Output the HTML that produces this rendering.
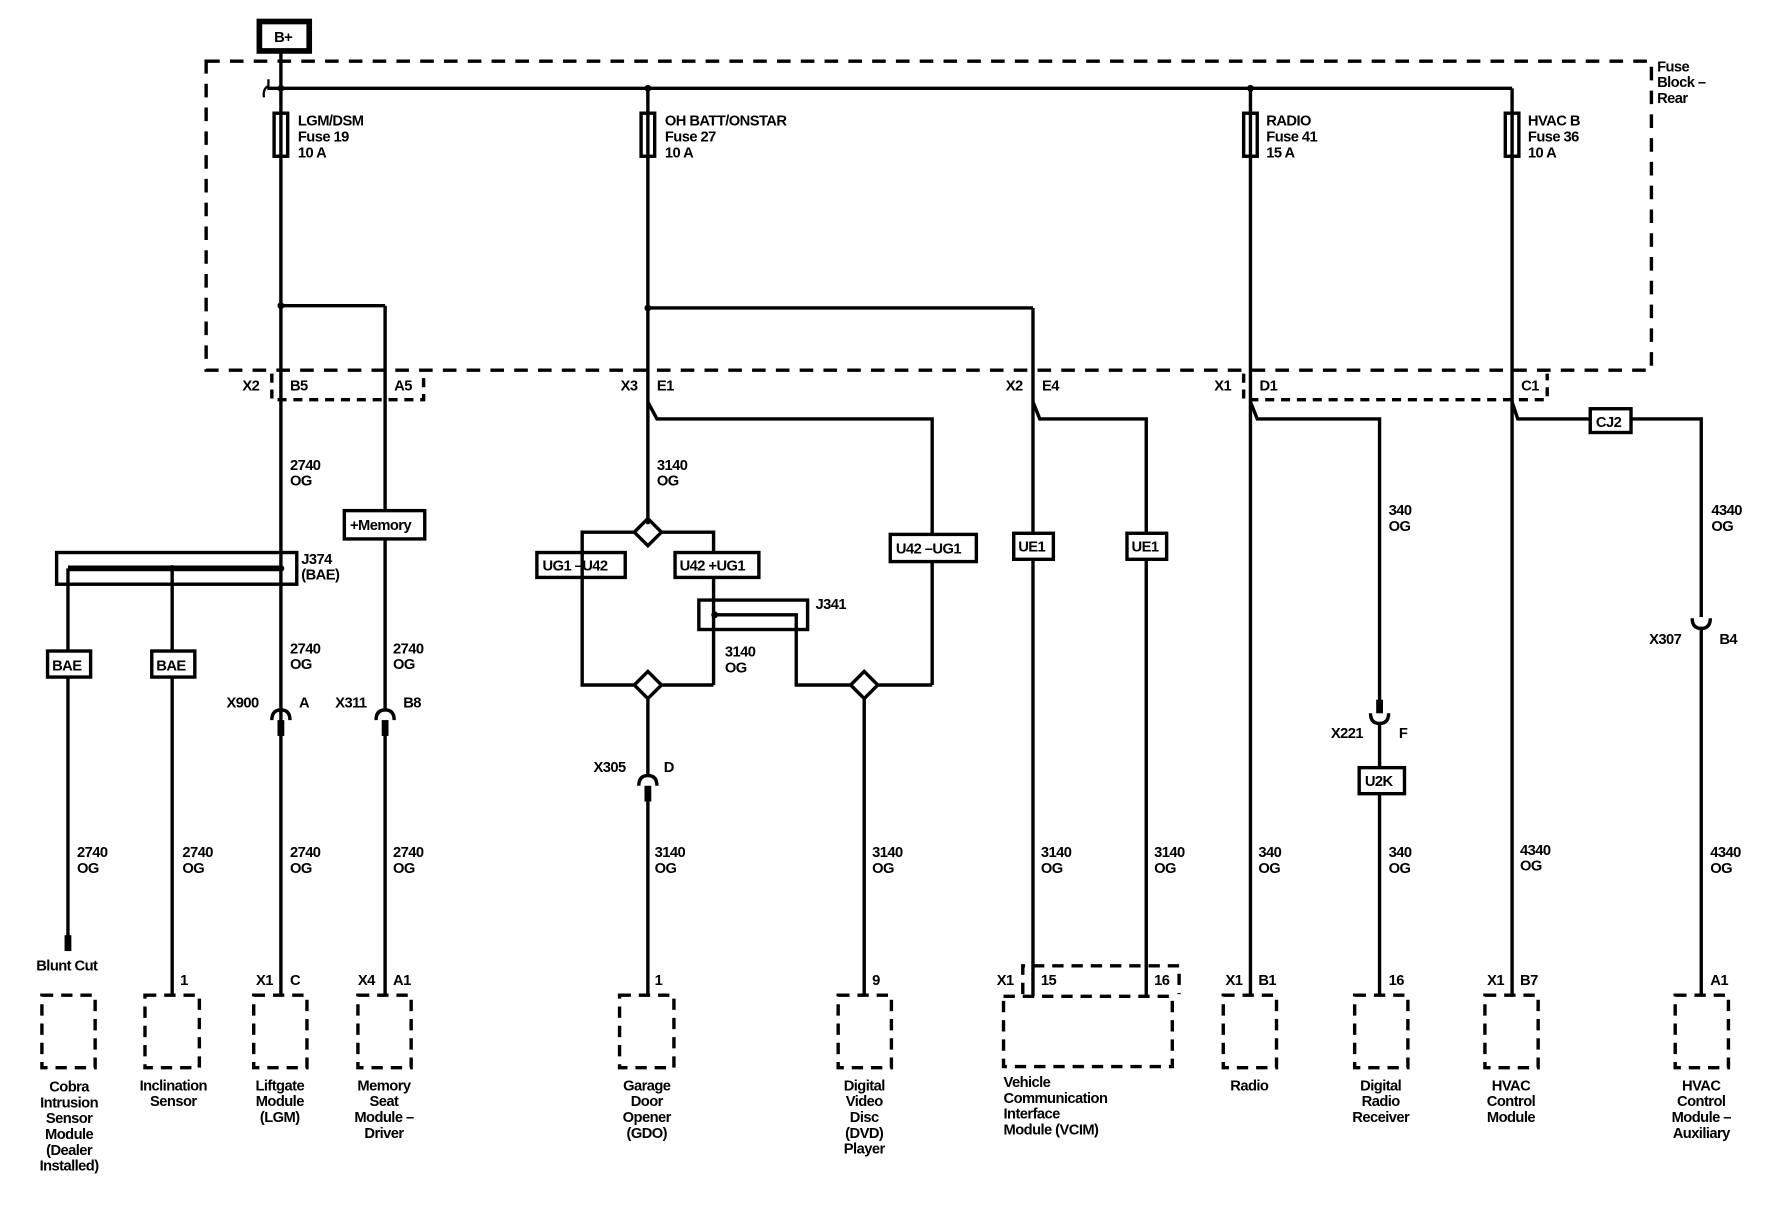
<!DOCTYPE html>
<html><head><meta charset="utf-8"><style>
html,body{margin:0;padding:0;background:#fff;}
svg{display:block}
text{font-family:"Liberation Sans",sans-serif;font-size:13px;font-weight:bold;fill:#000;letter-spacing:-0.5px}
</style></head><body>
<svg width="1776" height="1216" viewBox="0 0 1568 1074" preserveAspectRatio="none" xmlns="http://www.w3.org/2000/svg">
<g fill="none" stroke="#000" stroke-width="3">
<rect x="229" y="19" width="44" height="26" stroke-width="5"/>
<line x1="248" y1="46" x2="248" y2="78"/>
<rect x="182" y="54" width="1276" height="273" stroke-dasharray="12,9"/>
<line x1="236" y1="78" x2="1335" y2="78"/>
<path d="M237 70 V76 Q232 78 233 86" stroke-width="2"/>
<rect x="242" y="100" width="12" height="38"/>
<rect x="566" y="100" width="12" height="38"/>
<rect x="1098" y="100" width="12" height="38"/>
<rect x="1329" y="100" width="12" height="38"/>
<line x1="248" y1="78" x2="248" y2="880"/>
<line x1="248" y1="270" x2="340" y2="270"/>
<line x1="340" y1="270" x2="340" y2="451"/>
<line x1="340" y1="476" x2="340" y2="628"/>
<line x1="340" y1="640" x2="340" y2="880"/>
<line x1="572" y1="78" x2="572" y2="463"/>
<line x1="572" y1="272" x2="912" y2="272"/>
<line x1="912" y1="272" x2="912" y2="880"/>
<line x1="1104" y1="78" x2="1104" y2="880"/>
<line x1="1335" y1="78" x2="1335" y2="880"/>
<path d="M240 330 V353 H374 V330" stroke-dasharray="8,6"/>
<path d="M1098 330 V353 H1366 V330" stroke-dasharray="8,6"/>
<path d="M572 355 L580 370 H823 V605"/>
<path d="M912 355 L918 370 H1012 V880"/>
<path d="M1104 355 L1110 370 H1218 V620"/>
<path d="M1335 355 L1340 370 H1404"/>
<path d="M1440 370 H1502 V545"/>
<path d="M1502 555 V880"/>
<rect x="1404" y="361" width="36" height="21"/>
<rect x="304" y="451" width="71" height="25"/>
<rect x="50" y="488" width="212" height="28"/>
<line x1="60" y1="502" x2="248" y2="502" stroke-width="5"/>
<line x1="60" y1="502" x2="60" y2="575"/>
<line x1="60" y1="598" x2="60" y2="828"/>
<line x1="60" y1="826" x2="60" y2="840" stroke-width="6"/>
<line x1="152" y1="502" x2="152" y2="575"/>
<line x1="152" y1="598" x2="152" y2="880"/>
<rect x="42" y="575" width="38" height="23"/>
<rect x="134" y="575" width="38" height="23"/>
<path d="M240 636 Q240 627 248 627 Q256 627 256 636"/>
<path d="M332 636 Q332 627 340 627 Q348 627 348 636"/>
<line x1="248" y1="636" x2="248" y2="650" stroke-width="6"/>
<line x1="340" y1="636" x2="340" y2="650" stroke-width="6"/>
<path d="M572 458 L584 470 L572 482 L560 470 Z"/>
<path d="M560 470 H514 V605 H560"/>
<path d="M584 470 H630 V488"/>
<rect x="474" y="488" width="78" height="22"/>
<rect x="596" y="488" width="74" height="22"/>
<line x1="630" y1="510" x2="630" y2="605"/>
<path d="M630 543 H703 V605 H751"/>
<rect x="617" y="530" width="96" height="26"/>
<line x1="584" y1="605" x2="630" y2="605"/>
<path d="M572 593 L584 605 L572 617 L560 605 Z"/>
<path d="M763 593 L775 605 L763 617 L751 605 Z"/>
<line x1="775" y1="605" x2="823" y2="605"/>
<rect x="786" y="472" width="76" height="24" fill="#fff"/>
<line x1="572" y1="617" x2="572" y2="685"/>
<path d="M564 694 Q564 685 572 685 Q580 685 580 694"/>
<line x1="572" y1="694" x2="572" y2="708" stroke-width="6"/>
<line x1="572" y1="708" x2="572" y2="880"/>
<line x1="763" y1="617" x2="763" y2="880"/>
<rect x="895" y="471" width="35" height="23" fill="#fff"/>
<rect x="995" y="471" width="35" height="23" fill="#fff"/>
<line x1="1218" y1="618" x2="1218" y2="630" stroke-width="6"/>
<path d="M1210 630 Q1210 639 1218 639 Q1226 639 1226 630"/>
<line x1="1218" y1="639" x2="1218" y2="678"/>
<rect x="1200" y="678" width="40" height="23"/>
<line x1="1218" y1="701" x2="1218" y2="880"/>
<path d="M1494 546 Q1494 555 1502 555 Q1510 555 1510 546"/>
<g stroke-dasharray="10,7">
<rect x="37" y="879" width="47" height="64"/>
<rect x="128" y="879" width="48" height="64"/>
<rect x="224" y="879" width="47" height="64"/>
<rect x="316" y="879" width="47" height="64"/>
<rect x="547" y="879" width="48" height="64"/>
<rect x="740" y="879" width="47" height="64"/>
<rect x="886" y="880" width="149" height="62"/>
<path d="M903 878 V853 H1041 V878"/>
<rect x="1080" y="879" width="47" height="64"/>
<rect x="1196" y="879" width="47" height="64"/>
<rect x="1311" y="879" width="47" height="64"/>
<rect x="1479" y="879" width="47" height="64"/>
</g>
</g>
<g fill="#000">
<circle cx="248" cy="78" r="3"/><circle cx="572" cy="78" r="3"/><circle cx="1104" cy="78" r="3"/>
<circle cx="248" cy="270" r="3"/><circle cx="572" cy="272" r="3"/>
<circle cx="248" cy="502" r="3"/><circle cx="152" cy="502" r="3"/><circle cx="631" cy="543" r="3"/>
</g>
<text x="242" y="37">B+</text>
<text x="1463" y="63">Fuse</text><text x="1463" y="77">Block –</text><text x="1463" y="91">Rear</text>
<text x="263" y="111">LGM/DSM</text><text x="263" y="125">Fuse 19</text><text x="263" y="139">10 A</text>
<text x="587" y="111">OH BATT/ONSTAR</text><text x="587" y="125">Fuse 27</text><text x="587" y="139">10 A</text>
<text x="1118" y="111">RADIO</text><text x="1118" y="125">Fuse 41</text><text x="1118" y="139">15 A</text>
<text x="1349" y="111">HVAC B</text><text x="1349" y="125">Fuse 36</text><text x="1349" y="139">10 A</text>
<text x="214" y="345">X2</text><text x="256" y="345">B5</text><text x="348" y="345">A5</text>
<text x="548" y="345">X3</text><text x="580" y="345">E1</text>
<text x="888" y="345">X2</text><text x="920" y="345">E4</text>
<text x="1072" y="345">X1</text><text x="1112" y="345">D1</text>
<text x="1343" y="345">C1</text>
<text x="1409" y="377">CJ2</text>
<text x="256" y="415">2740</text><text x="256" y="429">OG</text>
<text x="580" y="415">3140</text><text x="580" y="429">OG</text>
<text x="1226" y="455">340</text><text x="1226" y="469">OG</text>
<text x="1511" y="455">4340</text><text x="1511" y="469">OG</text>
<text x="309" y="468">+Memory</text>
<text x="266" y="498">J374</text><text x="266" y="512">(BAE)</text>
<text x="479" y="504">UG1 –U42</text><text x="600" y="504">U42 +UG1</text>
<text x="791" y="489">U42 –UG1</text>
<text x="899" y="487">UE1</text><text x="999" y="487">UE1</text>
<text x="720" y="538">J341</text>
<text x="46" y="592">BAE</text><text x="138" y="592">BAE</text>
<text x="256" y="577">2740</text><text x="256" y="591">OG</text>
<text x="347" y="577">2740</text><text x="347" y="591">OG</text>
<text x="640" y="580">3140</text><text x="640" y="594">OG</text>
<text x="1456" y="569">X307</text><text x="1518" y="569">B4</text>
<text x="200" y="625">X900</text><text x="264" y="625">A</text>
<text x="296" y="625">X311</text><text x="356" y="625">B8</text>
<text x="1175" y="652">X221</text><text x="1235" y="652">F</text>
<text x="1205" y="694">U2K</text>
<text x="524" y="682">X305</text><text x="586" y="682">D</text>
<g>
<text x="68" y="757">2740</text><text x="68" y="771">OG</text>
<text x="161" y="757">2740</text><text x="161" y="771">OG</text>
<text x="256" y="757">2740</text><text x="256" y="771">OG</text>
<text x="347" y="757">2740</text><text x="347" y="771">OG</text>
<text x="578" y="757">3140</text><text x="578" y="771">OG</text>
<text x="770" y="757">3140</text><text x="770" y="771">OG</text>
<text x="919" y="757">3140</text><text x="919" y="771">OG</text>
<text x="1019" y="757">3140</text><text x="1019" y="771">OG</text>
<text x="1111" y="757">340</text><text x="1111" y="771">OG</text>
<text x="1226" y="757">340</text><text x="1226" y="771">OG</text>
<text x="1342" y="755">4340</text><text x="1342" y="769">OG</text>
<text x="1510" y="757">4340</text><text x="1510" y="771">OG</text>
</g>
<text x="32" y="857">Blunt Cut</text>
<text x="159" y="870">1</text>
<text x="226" y="870">X1</text><text x="256" y="870">C</text>
<text x="316" y="870">X4</text><text x="347" y="870">A1</text>
<text x="578" y="870">1</text>
<text x="770" y="870">9</text>
<text x="880" y="870">X1</text><text x="919" y="870">15</text><text x="1019" y="870">16</text>
<text x="1082" y="870">X1</text><text x="1111" y="870">B1</text>
<text x="1226" y="870">16</text>
<text x="1313" y="870">X1</text><text x="1342" y="870">B7</text>
<text x="1510" y="870">A1</text>
<g text-anchor="middle">
<text x="61" y="964">Cobra</text><text x="61" y="978">Intrusion</text><text x="61" y="992">Sensor</text><text x="61" y="1006">Module</text><text x="61" y="1020">(Dealer</text><text x="61" y="1034">Installed)</text>
<text x="153" y="963">Inclination</text><text x="153" y="977">Sensor</text>
<text x="247" y="963">Liftgate</text><text x="247" y="977">Module</text><text x="247" y="991">(LGM)</text>
<text x="339" y="963">Memory</text><text x="339" y="977">Seat</text><text x="339" y="991">Module –</text><text x="339" y="1005">Driver</text>
<text x="571" y="963">Garage</text><text x="571" y="977">Door</text><text x="571" y="991">Opener</text><text x="571" y="1005">(GDO)</text>
<text x="763" y="963">Digital</text><text x="763" y="977">Video</text><text x="763" y="991">Disc</text><text x="763" y="1005">(DVD)</text><text x="763" y="1019">Player</text>
<text x="1103" y="963">Radio</text>
<text x="1219" y="963">Digital</text><text x="1219" y="977">Radio</text><text x="1219" y="991">Receiver</text>
<text x="1334" y="963">HVAC</text><text x="1334" y="977">Control</text><text x="1334" y="991">Module</text>
<text x="1502" y="963">HVAC</text><text x="1502" y="977">Control</text><text x="1502" y="991">Module –</text><text x="1502" y="1005">Auxiliary</text>
</g>
<text x="886" y="960">Vehicle</text><text x="886" y="974">Communication</text><text x="886" y="988">Interface</text><text x="886" y="1002">Module (VCIM)</text>
</svg>
</body></html>
